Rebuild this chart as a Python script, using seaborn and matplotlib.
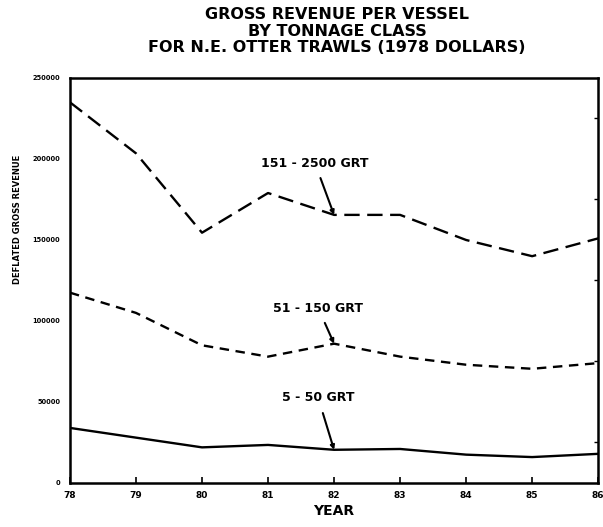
import numpy as np
import pandas as pd
import matplotlib
matplotlib.use("Agg")
import matplotlib.pyplot as plt
import seaborn as sns

# data
years = [78, 79, 80, 81, 82, 83, 84, 85, 86]
rev_large = [235000, 203500, 154500, 179000, 165500, 165500, 150000, 140000, 151000]
rev_medium = [117500, 105000, 85000, 78000, 86000, 78000, 73000, 70500, 74000]
rev_small = [34000, 28000, 22000, 23500, 20500, 21000, 17500, 16000, 18000]
class_names = ["151 - 2500 GRT", "51 - 150 GRT", "5 - 50 GRT"]
y_ticks = [0, 50000, 100000, 150000, 200000, 250000]

df = pd.DataFrame({
    "year": years * 3,
    "revenue": rev_large + rev_medium + rev_small,
    "cls": np.repeat(class_names, len(years)),
})

sns.set_style("ticks")
plt.rcParams["font.family"] = ["DejaVu Sans"]
plt.rcParams["text.color"] = "black"
plt.rcParams["axes.labelcolor"] = "black"
plt.rcParams["xtick.color"] = "black"
plt.rcParams["ytick.color"] = "black"

fig = plt.figure(figsize=(6.03, 5.27), dpi=100)
ax = fig.add_axes([0.116, 0.0835, 0.876, 0.7685])

dash_map = {
    "151 - 2500 GRT": (6.5, 3.2),
    "51 - 150 GRT": (4.0, 2.8),
    "5 - 50 GRT": "",
}
sns.lineplot(data=df, x="year", y="revenue", style="cls", dashes=dash_map,
             color="black", linewidth=1.7, legend=False, ax=ax)

ax.set_xlim(78, 86)
ax.set_ylim(0, 250000)
ax.set_xticks(years)
ax.set_xticklabels([str(y) for y in years], fontsize=6.5, fontweight="bold")
ax.set_yticks(y_ticks)
ax.set_yticklabels([str(v) for v in y_ticks], fontsize=4.8, fontweight="bold")
ax.tick_params(axis="x", direction="in", length=4, width=1.2, pad=6)
ax.tick_params(axis="y", direction="out", length=0, width=1.2, pad=7)
ax.set_yticks(np.arange(0, 250001, 25000), minor=True)
ax.tick_params(axis="y", which="minor", direction="in", length=3, width=1, left=False, right=True)
for sp in ax.spines.values():
    sp.set_linewidth(1.8)
    sp.set_color("black")

ax.set_xlabel("YEAR", fontsize=10, fontweight="bold", labelpad=3)
ax.set_ylabel("DEFLATED GROSS REVENUE", fontsize=6, fontweight="bold")
ax.yaxis.set_label_coords(-0.091, 0.65)

# labels with arrows to the 1982 points
series = [rev_large, rev_medium, rev_small]
text_pos = [(81.71, 197500), (81.76, 108000), (81.76, 52500)]
i82 = years.index(82)
for name, vals, (tx, ty) in zip(class_names, series, text_pos):
    ax.annotate(name, xy=(82, vals[i82]), xytext=(tx, ty),
                ha="center", va="center", fontsize=9, fontweight="bold",
                arrowprops=dict(arrowstyle="-|>", color="black", lw=1.5,
                                mutation_scale=6, shrinkA=4, shrinkB=0))

fig.text(0.559, 0.941,
         "GROSS REVENUE PER VESSEL\nBY TONNAGE CLASS\nFOR N.E. OTTER TRAWLS (1978 DOLLARS)",
         ha="center", va="center", fontsize=11.5, fontweight="bold", linespacing=1.1)

fig.savefig("out.png", dpi=100)
